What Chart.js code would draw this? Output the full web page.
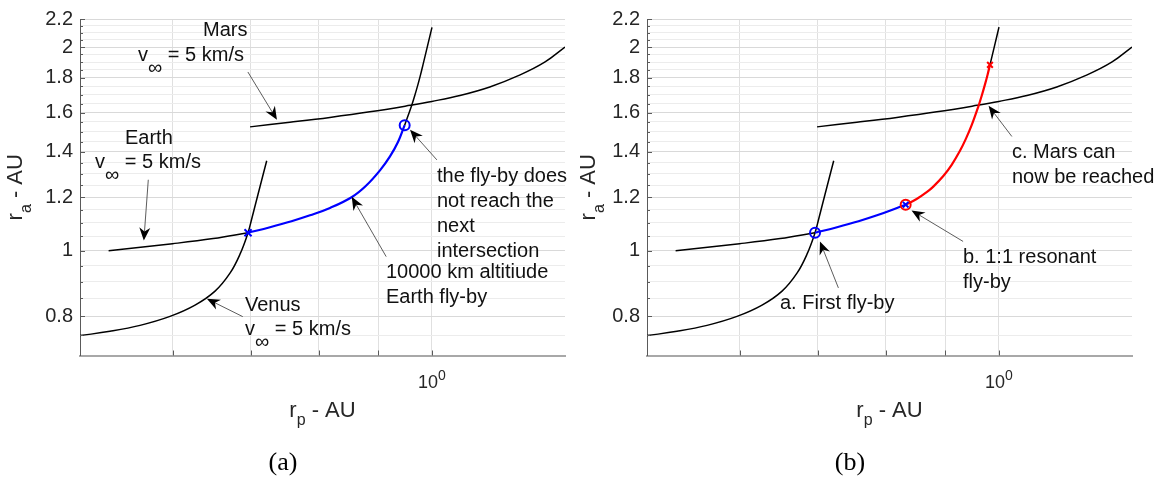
<!DOCTYPE html>
<html>
<head>
<meta charset="utf-8">
<script src="https://cdn.jsdelivr.net/npm/chart.js@4.4.1/dist/chart.umd.min.js"></script>
<style>
  html, body { margin: 0; padding: 0; background: #fff; width: 1163px; height: 480px; overflow: hidden; }
  #wrap { position: relative; width: 1163px; height: 480px; }
  #wrap canvas { position: absolute; top: 0; }
  .cap { position: absolute; top: 449px; font-family: 'Liberation Serif', 'Times New Roman', serif;
         font-size: 26px; line-height: 26px; color: #000; transform: translateX(-50%); white-space: nowrap; }
</style>
</head>
<body>
<div id="wrap">
  <canvas id="panelA" width="580" height="480" style="left:0px"></canvas>
  <canvas id="panelB" width="583" height="480" style="left:580px"></canvas>
  <div class="cap" style="left:283px">(a)</div>
  <div class="cap" style="left:850px">(b)</div>
</div>
<script>
// ---- axes (log-log: perihelion r_p vs aphelion r_a, both in AU) ----
const xRange = [0.5, 1.3];
const yRange = [0.7, 2.2];
const xGridValues = [0.6, 0.7, 0.8, 0.9, 1];
const yTickLabels = [0.8, 1, 1.2, 1.4, 1.6, 1.8, 2, 2.2];
const yMinorStep = 0.05;

// ---- v_inf = 5 km/s contours ----
const marsRp  = [0.699, 0.756, 0.818, 0.885, 0.958, 1.000, 1.057, 1.121, 1.190, 1.250, 1.300];
const marsRa  = [1.524, 1.548, 1.574, 1.604, 1.640, 1.662, 1.696, 1.746, 1.819, 1.901, 2.000];

const earthRp = [0.529, 0.600, 0.650, 0.696];
const earthRa = [1.000, 1.024, 1.042, 1.063];

const venusRp = [0.500, 0.5304, 0.5628, 0.5970, 0.6272, 0.6524, 0.6719, 0.6853, 0.6962, 0.7017, 0.7072, 0.7128, 0.7177, 0.7223];
const venusRa = [0.749, 0.760, 0.7756, 0.7996, 0.8309, 0.8714, 0.9264, 0.9882, 1.063, 1.1187, 1.1792, 1.243, 1.3013, 1.3578];

// upper branch reached after the fly-by
const upperRpA = [0.9479, 0.9604, 0.9667, 0.9731, 0.9782, 0.9827, 0.9925, 1.0003];
const upperRaA = [1.5329, 1.6330, 1.6929, 1.7611, 1.8220, 1.8820, 2.021, 2.138];
const upperRpB = [0.9827, 0.9925, 1.0003];
const upperRaB = [1.8820, 2.021, 2.140];

// ---- fly-by tracks ----
const flybyRpA = [0.6962, 0.7270, 0.7585, 0.7866, 0.8182, 0.8545, 0.8784, 0.9029, 0.9209, 0.9355, 0.9479];
const flybyRaA = [1.063, 1.0832, 1.1055, 1.1279, 1.1566, 1.2007, 1.2472, 1.3143, 1.3784, 1.4475, 1.5329];

const flybyRpB = [0.6962, 0.7270, 0.7585, 0.7866, 0.8182, 0.8323];
const flybyRaB = [1.063, 1.0832, 1.1055, 1.1279, 1.1566, 1.1693];

const resonantRp = [0.8323, 0.8505, 0.8675, 0.8789, 0.8964, 0.9113, 0.9263, 0.9373, 0.9479, 0.9604, 0.9667, 0.9731, 0.9782, 0.9827];
const resonantRa = [1.1693, 1.1921, 1.2201, 1.2437, 1.2894, 1.3395, 1.4049, 1.4644, 1.5329, 1.6330, 1.6929, 1.7611, 1.8220, 1.8820];

// ---- marked points ----
const venusEarthRp = [0.6962];
const venusEarthRa = [1.063];
const flybyEndRpA = [0.9479];
const flybyEndRaA = [1.5329];
const resonantStartRp = [0.8323];
const resonantStartRa = [1.1693];
const resonantEndRp = [0.9827];
const resonantEndRa = [1.8820];

const FONT = "'Liberation Sans', Arial, Helvetica, sans-serif";
const BLUE = '#0000ff', RED = '#ff0000', BLACK = '#000000';

function pts(xs, ys) { return xs.map((x, i) => ({ x: x, y: ys[i] })); }

function curve(xs, ys, color, width, order) {
  return {
    data: pts(xs, ys), borderColor: color, backgroundColor: color, borderWidth: width,
    pointRadius: 0, pointHoverRadius: 0, fill: false, tension: 0.4, order: order
  };
}
function marker(xs, ys, style, color, radius, order) {
  return {
    data: pts(xs, ys), showLine: false, pointStyle: style, pointRadius: radius,
    pointHoverRadius: radius, pointBorderColor: color, pointBackgroundColor: 'rgba(0,0,0,0)',
    pointBorderWidth: 2, borderColor: color, order: order
  };
}

const yGridValues = [];
for (let v = yRange[0]; v <= yRange[1] + 1e-9; v += yMinorStep) yGridValues.push(Math.round(v * 100) / 100);
const isMajorY = v => yTickLabels.some(t => Math.abs(t - v) < 1e-6);

function drawRich(ctx, parts, x, y, align) {
  let w = 0;
  parts.forEach(p => { ctx.font = p[1] + 'px ' + FONT; w += ctx.measureText(p[0]).width; });
  let cx = align === 'center' ? x - w / 2 : (align === 'right' ? x - w : x);
  ctx.textAlign = 'left';
  ctx.textBaseline = 'alphabetic';
  parts.forEach(p => {
    ctx.font = p[1] + 'px ' + FONT;
    ctx.fillText(p[0], cx, y + (p[2] || 0));
    cx += ctx.measureText(p[0]).width;
  });
}

function drawArrow(ctx, x0, y0, x1, y1) {
  const ang = Math.atan2(y1 - y0, x1 - x0);
  const L = 13, W = 5.5, N = 9;
  ctx.save();
  ctx.strokeStyle = '#333';
  ctx.lineWidth = 0.8;
  ctx.beginPath();
  ctx.moveTo(x0, y0);
  ctx.lineTo(x1 - Math.cos(ang) * N, y1 - Math.sin(ang) * N);
  ctx.stroke();
  ctx.translate(x1, y1);
  ctx.rotate(ang);
  ctx.fillStyle = '#000';
  ctx.beginPath();
  ctx.moveTo(0, 0);
  ctx.lineTo(-L, -W);
  ctx.lineTo(-N, 0);
  ctx.lineTo(-L, W);
  ctx.closePath();
  ctx.fill();
  ctx.restore();
}

const vInf = [['v', 20, 0], ['\u221E', 20, 13], [' = 5 km/s', 20, 0]];

// annotation layer: axis titles, inward ticks, labels and arrows
function annotationPlugin(cfg) {
  return {
    id: 'annotations',
    afterDraw(chart) {
      const ctx = chart.ctx, xs = chart.scales.x, ys = chart.scales.y, a = chart.chartArea;
      ctx.save();
      // inward tick marks
      ctx.strokeStyle = '#5a5a5a';
      ctx.lineWidth = 1;
      ctx.beginPath();
      yGridValues.forEach(v => {
        if (v <= yRange[0]) return;
        const py = Math.round(ys.getPixelForValue(v)) + 0.5;
        ctx.moveTo(a.left, py);
        ctx.lineTo(a.left + (isMajorY(v) ? 5 : 3), py);
      });
      xGridValues.forEach(v => {
        const px = Math.round(xs.getPixelForValue(v)) + 0.5;
        ctx.moveTo(px, a.bottom);
        ctx.lineTo(px, a.bottom - 5);
      });
      ctx.stroke();

      // x tick label 10^0
      ctx.fillStyle = '#262626';
      const p1 = xs.getPixelForValue(1);
      drawRich(ctx, [['10', 18, 0], ['0', 14, -8]], p1, 388, 'center');

      // axis titles
      drawRich(ctx, [['r', 22, 0], ['p', 16, 8], [' - AU', 22, 0]], (a.left + a.right) / 2, 417, 'center');
      ctx.save();
      ctx.translate(cfg.yTitleX, (a.top + a.bottom) / 2);
      ctx.rotate(-Math.PI / 2);
      drawRich(ctx, [['r', 22, 0], ['a', 16, 9], [' - AU', 22, 0]], 0, 0, 'center');
      ctx.restore();

      // labels
      ctx.fillStyle = '#111';
      cfg.texts.forEach(t => drawRich(ctx, t.parts, t.x, t.y, 'left'));

      // arrows, anchored in data coordinates
      cfg.arrows.forEach(r => {
        drawArrow(ctx,
          xs.getPixelForValue(r.from[0]), ys.getPixelForValue(r.from[1]),
          xs.getPixelForValue(r.to[0]), ys.getPixelForValue(r.to[1]));
      });
      ctx.restore();
    }
  };
}

function makePanel(id, cfg) {
  return new Chart(document.getElementById(id), {
    type: 'line',
    data: { datasets: cfg.datasets },
    options: {
      responsive: false,
      animation: false,
      devicePixelRatio: 1,
      events: [],
      layout: { padding: { top: 19, right: cfg.padRight, left: 0, bottom: 0 } },
      plugins: { legend: { display: false }, tooltip: { enabled: false } },
      scales: {
        x: {
          type: 'logarithmic', position: 'bottom', min: xRange[0], max: xRange[1],
          afterBuildTicks: s => { s.ticks = xGridValues.map(v => ({ value: v })); },
          afterFit: s => { s.height = 124.5; },
          ticks: { display: false },
          grid: { color: '#e0e0e0', lineWidth: 1, drawTicks: false },
          border: { display: true, color: '#a8a8a8', width: 2 }
        },
        y: {
          type: 'logarithmic', position: 'left', min: yRange[0], max: yRange[1],
          afterBuildTicks: s => { s.ticks = yGridValues.map(v => ({ value: v })); },
          afterFit: s => { s.width = cfg.yWidth; },
          ticks: {
            autoSkip: false, padding: 7, color: '#262626',
            font: { family: FONT, size: 20 },
            callback: v => {
              const m = yTickLabels.find(t => Math.abs(t - v) < 1e-6);
              return m === undefined ? '' : String(m);
            }
          },
          grid: {
            drawTicks: false, lineWidth: 1,
            color: c => (c.tick && isMajorY(c.tick.value)) ? '#d9d9d9' : '#ececec'
          },
          border: { display: true, color: '#5a5a5a', width: 1 }
        }
      }
    },
    plugins: [annotationPlugin(cfg)]
  });
}

// panel (a): the first Earth fly-by stops short of the Mars contour
makePanel('panelA', {
  padRight: 15, yWidth: 80, yTitleX: 22,
  datasets: [
    marker(venusEarthRp, venusEarthRa, 'crossRot', BLUE, 5, 0),
    marker(flybyEndRpA, flybyEndRaA, 'circle', BLUE, 5, 0),
    curve(flybyRpA, flybyRaA, BLUE, 2.2, 1),
    curve(marsRp, marsRa, BLACK, 1.5, 2),
    curve(earthRp, earthRa, BLACK, 1.5, 2),
    curve(venusRp, venusRa, BLACK, 1.5, 2),
    curve(upperRpA, upperRaA, BLACK, 1.5, 2)
  ],
  texts: [
    { parts: [['Mars', 20, 0]], x: 203, y: 36 },
    { parts: vInf, x: 138, y: 61 },
    { parts: [['Earth', 20, 0]], x: 125, y: 144 },
    { parts: vInf, x: 95, y: 168 },
    { parts: [['Venus', 20, 0]], x: 245, y: 311 },
    { parts: vInf, x: 245, y: 335 },
    { parts: [['the fly-by does', 20, 0]], x: 437, y: 182 },
    { parts: [['not reach the', 20, 0]], x: 437, y: 207 },
    { parts: [['next', 20, 0]], x: 437, y: 232 },
    { parts: [['intersection', 20, 0]], x: 437, y: 257 },
    { parts: [['10000 km altitiude', 20, 0]], x: 386, y: 278 },
    { parts: [['Earth fly-by', 20, 0]], x: 386, y: 303 }
  ],
  arrows: [
    { from: [0.696, 1.837], to: [0.737, 1.561] },
    { from: [0.572, 1.273], to: [0.567, 1.035] },
    { from: [0.689, 0.799], to: [0.642, 0.849] },
    { from: [1.010, 1.362], to: [0.958, 1.509] },
    { from: [0.914, 0.980], to: [0.854, 1.201] }
  ]
});

// panel (b): a 1:1 resonant fly-by opens the way to Mars
makePanel('panelB', {
  padRight: 31, yWidth: 67, yTitleX: 15,
  datasets: [
    marker(resonantStartRp, resonantStartRa, 'crossRot', BLUE, 4, 0),
    marker(resonantStartRp, resonantStartRa, 'circle', RED, 5, 0),
    marker(resonantEndRp, resonantEndRa, 'crossRot', RED, 4, 0),
    marker(venusEarthRp, venusEarthRa, 'circle', BLUE, 5, 0),
    curve(resonantRp, resonantRa, RED, 2.2, 1),
    curve(flybyRpB, flybyRaB, BLUE, 2.2, 1),
    curve(marsRp, marsRa, BLACK, 1.5, 2),
    curve(earthRp, earthRa, BLACK, 1.5, 2),
    curve(venusRp, venusRa, BLACK, 1.5, 2),
    curve(upperRpB, upperRaB, BLACK, 1.5, 2)
  ],
  texts: [
    { parts: [['c. Mars can', 20, 0]], x: 432, y: 158 },
    { parts: [['now be reached', 20, 0]], x: 432, y: 183 },
    { parts: [['b. 1:1 resonant', 20, 0]], x: 383, y: 263 },
    { parts: [['fly-by', 20, 0]], x: 383, y: 288 },
    { parts: [['a. First fly-by', 20, 0]], x: 200, y: 309 }
  ],
  arrows: [
    { from: [1.026, 1.475], to: [0.980, 1.637] },
    { from: [0.932, 1.032], to: [0.842, 1.147] },
    { from: [0.729, 0.881], to: [0.703, 1.032] }
  ]
});
</script>
</body>
</html>
